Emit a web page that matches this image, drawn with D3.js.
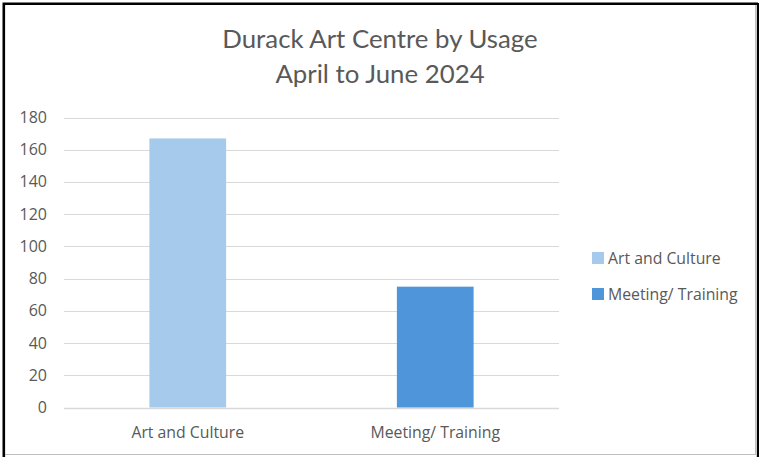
<!DOCTYPE html>
<html>
<head>
<meta charset="utf-8">
<script src="https://cdn.jsdelivr.net/npm/d3@7"></script>
<style>
  body { margin: 0; background: #fff; }
  text { font-family: "Open Sans", Lato, sans-serif; fill: #595959; }
  text.title { font-family: Lato, "Open Sans", sans-serif; }
</style>
</head>
<body>
<svg width="759" height="457"></svg>
<script>
// data
const categories = ["Art and Culture", "Meeting/ Training"]
const usage = [167, 75]
const barColors = ["#a6caec", "#4e95d9"]
const yTicks = [0, 20, 40, 60, 80, 100, 120, 140, 160, 180]
const titleLines = ["Durack Art Centre by Usage", "April to June 2024"]

const svg = d3.select("svg")

// frame
svg.append("rect").attr("x", 0).attr("y", 0).attr("width", 759).attr("height", 457).attr("fill", "#fff")
svg.append("line").attr("x1", 755.5).attr("x2", 755.5).attr("y1", 5).attr("y2", 455).attr("stroke", "#bfbfbf").attr("stroke-width", 1)
svg.append("line").attr("x1", 5).attr("x2", 756).attr("y1", 454.5).attr("y2", 454.5).attr("stroke", "#bfbfbf").attr("stroke-width", 1)
svg.append("path").attr("d", "M3.8,457 V3.8 H758").attr("fill", "none").attr("stroke", "#000").attr("stroke-width", 2.6)
svg.append("line").attr("x1", 758).attr("x2", 758).attr("y1", 3).attr("y2", 457).attr("stroke", "#000").attr("stroke-width", 2.4)

// title
svg.append("g").selectAll("text")
  .data(titleLines).enter()
  .append("text")
  .attr("class", "title")
  .attr("x", 380)
  .attr("y", (d, i) => 48 + i * 35)
  .attr("text-anchor", "middle")
  .style("font-size", "25.8px")
  .text(d => d)

const x = d3.scaleBand().domain(categories).range([64, 559]).paddingInner(0.69).paddingOuter(0.345)
const y = d3.scaleLinear().domain([0, 180]).range([407.5, 117.5])

// gridlines
svg.append("g").selectAll("line")
  .data(yTicks).enter()
  .append("line")
  .attr("x1", 64).attr("x2", 559)
  .attr("y1", d => Math.round(y(d)) + 0.5).attr("y2", d => Math.round(y(d)) + 0.5)
  .attr("stroke", "#d9d9d9").attr("stroke-width", d => d === 0 ? 1.5 : 1.2)

// y labels
svg.append("g").selectAll("text")
  .data(yTicks).enter()
  .append("text")
  .attr("x", 47)
  .attr("y", d => y(d) + 5.5)
  .attr("text-anchor", "end")
  .style("font-size", "16px")
  .text(d => d)

// bars
svg.append("g").selectAll("rect")
  .data(usage).enter()
  .append("rect")
  .attr("x", (d, i) => x(categories[i]))
  .attr("width", x.bandwidth())
  .attr("y", d => y(d))
  .attr("height", d => y(0) - y(d))
  .attr("fill", (d, i) => barColors[i])

// x labels
svg.append("g").selectAll("text")
  .data(categories).enter()
  .append("text")
  .attr("x", d => x(d) + x.bandwidth() / 2)
  .attr("y", 438)
  .attr("text-anchor", "middle")
  .style("font-size", "15.8px")
  .text(d => d)

// legend
const legend = svg.append("g").selectAll("g")
  .data(categories).enter()
  .append("g")
  .attr("transform", (d, i) => "translate(592," + (252 + i * 36) + ")")
legend.append("rect").attr("width", 12).attr("height", 12).attr("fill", (d, i) => barColors[i])
legend.append("text").attr("x", 16).attr("y", 11.5).style("font-size", "15.8px").text(d => d)
</script>
</body>
</html>
